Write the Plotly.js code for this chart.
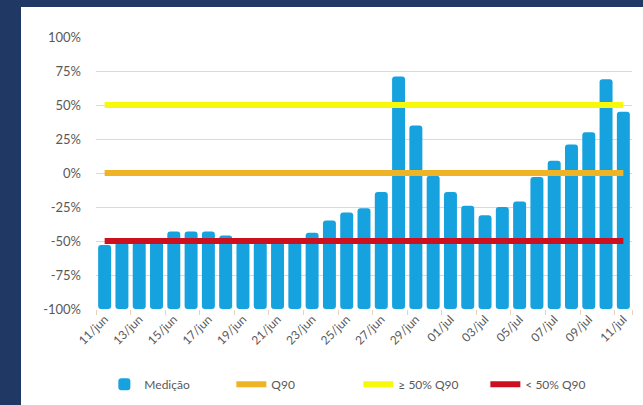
<!DOCTYPE html>
<html>
<head>
<meta charset="utf-8">
<script src="https://cdn.plot.ly/plotly-3.0.1.min.js"></script>
<style>
  html, body { margin: 0; padding: 0; background: #ffffff; width: 100%; height: 100%; overflow: hidden; }
  #frameLeft { position: absolute; left: 0; top: 0; bottom: 0; width: 21px; background: #1f3864; }
  #frameTop { position: absolute; left: 0; top: 0; right: 0; height: 7px; background: #1f3864; }
  #chart { position: absolute; left: 21px; top: 7px; width: 622px; height: 398px; }
</style>
</head>
<body>
<div id="frameLeft"></div><div id="frameTop"></div>
<div id="chart"></div>
<script>
const dates = ["11/jun","12/jun","13/jun","14/jun","15/jun","16/jun","17/jun","18/jun","19/jun","20/jun",
  "21/jun","22/jun","23/jun","24/jun","25/jun","26/jun","27/jun","28/jun","29/jun","30/jun",
  "01/jul","02/jul","03/jul","04/jul","05/jul","06/jul","07/jul","08/jul","09/jul","10/jul","11/jul"];
const medicao = [-53, -51, -51, -48, -43, -43, -43, -46, -51, -51,
  -51, -48, -44, -35, -29, -26, -14, 71, 35, -2,
  -14, -24, -31, -25, -21, -3, 9, 21, 30, 69, 45];
const q90 = [0,0,0,0,0,0,0,0,0,0,0,0,0,0,0,0,0,0,0,0,0,0,0,0,0,0,0,0,0,0,0];
const acima50 = [50,50,50,50,50,50,50,50,50,50,50,50,50,50,50,50,50,50,50,50,50,50,50,50,50,50,50,50,50,50,50];
const abaixo50 = [-50,-50,-50,-50,-50,-50,-50,-50,-50,-50,-50,-50,-50,-50,-50,-50,-50,-50,-50,-50,-50,-50,-50,-50,-50,-50,-50,-50,-50,-50,-50];
const axisMin = -100;
const tickDates = dates.filter((d, i) => i % 2 === 0);
const yTicks = [-100, -75, -50, -25, 0, 25, 50, 75, 100];
const yTickText = ["-100%", "-75%", "-50%", "-25%", "0%", "25%", "50%", "75%", "100%"];

const font = { family: "Lato, 'Open Sans', sans-serif", size: 12, color: "#595959" };

const traces = [
  {
    type: "bar", name: "Medição", x: dates,
    y: medicao.map(v => v - axisMin), base: axisMin,
    marker: { color: "#16a2de", cornerradius: 3 },
    hoverinfo: "skip"
  },
  { type: "scatter", mode: "lines", name: "Q90", x: dates, y: q90,
    line: { color: "#efb425", width: 6 }, hoverinfo: "skip" },
  { type: "scatter", mode: "lines", name: "≥ 50% Q90", x: dates, y: acima50,
    line: { color: "#f8f80c", width: 6 }, hoverinfo: "skip" },
  { type: "scatter", mode: "lines", name: "< 50% Q90", x: dates, y: abaixo50,
    line: { color: "#cc1020", width: 6 }, hoverinfo: "skip" }
];

const layout = {
  width: 622, height: 398,
  margin: { l: 75, r: 11, t: 30, b: 96 },
  paper_bgcolor: "#ffffff", plot_bgcolor: "#ffffff",
  font: font,
  bargap: 0.25,
  showlegend: true,
  legend: {
    orientation: "h", xref: "container", yref: "container",
    x: 0.134, xanchor: "left", y: 0.052, yanchor: "middle",
    font: { family: font.family, size: 12, color: "#595959" },
    entrywidth: 82, entrywidthmode: "pixels",
    traceorder: "normal"
  },
  xaxis: {
    type: "category", tickmode: "array", tickvals: tickDates, ticktext: tickDates,
    tickangle: -45, tickson: "boundaries", ticks: "outside", ticklen: 5,
    tickcolor: "#e6d3bd", showgrid: false, showline: false, zeroline: false,
    tickfont: { family: font.family, size: 12, color: "#595959" },
    range: [-0.5, 30.5], fixedrange: true, automargin: false
  },
  yaxis: {
    range: [-100, 100], tickmode: "array", tickvals: yTicks, ticktext: yTickText,
    showgrid: true, gridcolor: "#d9d9d9", gridwidth: 1, zeroline: false, showline: false,
    ticks: "", ticklabelstandoff: 14,
    tickfont: { family: font.family, size: 13, color: "#595959" },
    fixedrange: true, automargin: false
  }
};

Plotly.newPlot("chart", traces, layout, { staticPlot: true, displayModeBar: false });
</script>
</body>
</html>
